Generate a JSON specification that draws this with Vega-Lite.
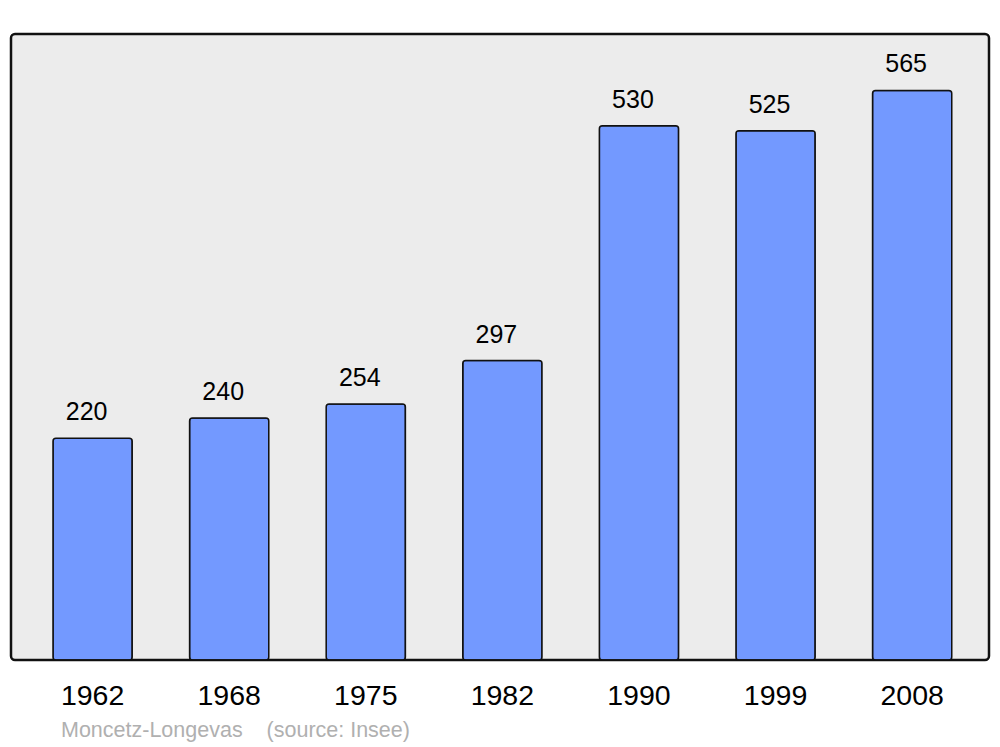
{
  "$schema": "https://vega.github.io/schema/vega-lite/v6.json",
  "width": 978,
  "height": 626,
  "autosize": {"type": "none"},
  "padding": {"left": 11, "top": 34, "right": 11, "bottom": 87},
  "background": "white",
  "config": {
    "view": {"fill": "#ececec", "stroke": "#111111", "strokeWidth": 2.5, "cornerRadius": 4},
    "font": "Liberation Sans"
  },
  "title": {
    "text": "Moncetz-Longevas\u00a0\u00a0\u00a0\u00a0(source: Insee)",
    "orient": "bottom",
    "anchor": "start",
    "dx": 50,
    "offset": 10,
    "fontSize": 21.5,
    "fontWeight": "normal",
    "color": "#b0b0b0",
    "font": "Liberation Sans"
  },
  "data": {
    "values": [
      {"year": "1962", "pop": 220},
      {"year": "1968", "pop": 240},
      {"year": "1975", "pop": 254},
      {"year": "1982", "pop": 297},
      {"year": "1990", "pop": 530},
      {"year": "1999", "pop": 525},
      {"year": "2008", "pop": 565}
    ]
  },
  "encoding": {
    "x": {
      "field": "year",
      "type": "nominal",
      "sort": null,
      "scale": {"paddingInner": 0.42, "paddingOuter": 0.29, "align": 0.53},
      "axis": {
        "title": null,
        "ticks": false,
        "domain": false,
        "labelAngle": 0,
        "labelFontSize": 28.5,
        "labelColor": "black",
        "labelPadding": 21,
        "labelDx": -3,
        "labelFont": "Liberation Sans"
      }
    },
    "y": {
      "field": "pop",
      "type": "quantitative",
      "scale": {"domain": [0, 621], "nice": false},
      "axis": null
    }
  },
  "layer": [
    {
      "mark": {"type": "bar", "fill": "#7399ff", "stroke": "#111111", "strokeWidth": 1.5, "cornerRadius": 3}
    },
    {
      "mark": {"type": "text", "dy": -26, "dx": -6, "fontSize": 25, "color": "black", "font": "Liberation Sans"},
      "encoding": {"text": {"field": "pop", "type": "quantitative"}}
    }
  ]
}
